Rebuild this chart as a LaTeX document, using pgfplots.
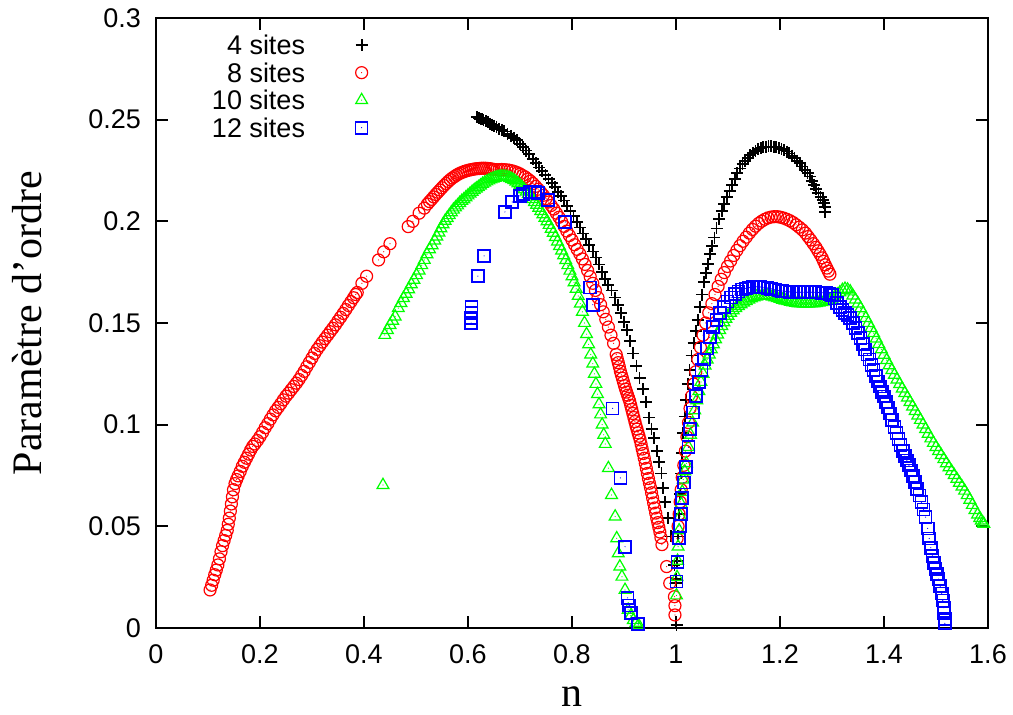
\documentclass[border=0pt]{standalone}
\usepackage{fontspec}
\setmainfont{Liberation Serif}
\newfontfamily\sansf{Liberation Sans}
\usepackage{pgfplots}
\pgfplotsset{compat=1.18}
\definecolor{gpred}{RGB}{255,0,0}
\definecolor{gpgreen}{RGB}{0,255,0}
\definecolor{gpblue}{RGB}{0,0,255}
\pgfdeclareplotmark{gpcirc}{%
  \pgfpathcircle{\pgfpointorigin}{\pgfplotmarksize}\pgfusepathqstroke
  \pgfpathcircle{\pgfpointorigin}{0.3pt}\pgfusepathqfill}
\pgfdeclareplotmark{gptri}{%
  \pgfpathmoveto{\pgfpointpolar{90}{\pgfplotmarksize}}%
  \pgfpathlineto{\pgfpointpolar{210}{\pgfplotmarksize}}%
  \pgfpathlineto{\pgfpointpolar{330}{\pgfplotmarksize}}%
  \pgfpathclose\pgfusepathqstroke
  \pgfpathcircle{\pgfpointorigin}{0.3pt}\pgfusepathqfill}
\pgfdeclareplotmark{gpsq}{%
  \pgfpathmoveto{\pgfqpoint{-\pgfplotmarksize}{-\pgfplotmarksize}}%
  \pgfpathlineto{\pgfqpoint{\pgfplotmarksize}{-\pgfplotmarksize}}%
  \pgfpathlineto{\pgfqpoint{\pgfplotmarksize}{\pgfplotmarksize}}%
  \pgfpathlineto{\pgfqpoint{-\pgfplotmarksize}{\pgfplotmarksize}}%
  \pgfpathclose\pgfusepathqstroke
  \pgfpathcircle{\pgfpointorigin}{0.3pt}\pgfusepathqfill}
\begin{document}
\begin{tikzpicture}
\begin{axis}[
  at={(0pt,0pt)}, anchor=south west,
  scale only axis, width=416pt, height=305pt,
  xmin=0, xmax=1.6, ymin=0, ymax=0.3,
  clip=false,
  xtick={0,0.2,0.4,0.6,0.8,1,1.2,1.4,1.6},
  xticklabels={0,0.2,0.4,0.6,0.8,1,1.2,1.4,1.6},
  ytick={0,0.05,0.1,0.15,0.2,0.25,0.3},
  yticklabels={0,0.05,0.1,0.15,0.2,0.25,0.3},
  minor tick num=0,
  tick align=inside,
  major tick length=6pt,
  tick style={black, line width=0.9pt},
  axis line style={black, line width=1.1pt},
  ticklabel style={font=\sansf\fontsize{13.5}{16}\selectfont},
  xticklabel style={yshift=-5pt},
  yticklabel style={xshift=-4pt},
  xlabel={n}, ylabel={Paramètre d’ordre},
  every axis x label/.style={at={(axis description cs:0.5,-0.113)}, anchor=center, font=\fontsize{21}{25}\selectfont},
  every axis y label/.style={at={(axis description cs:-0.1545,0.5)}, anchor=center, rotate=90, font=\fontsize{21}{25}\selectfont},
  legend style={draw=none, fill=none, inner sep=0pt, outer sep=0pt, row sep=0pt, column sep=0pt,
    font=\sansf\fontsize{13.5}{16}\selectfont,
    nodes={inner sep=0pt, text height=11.6pt, text depth=2.15pt},
    at={(axis description cs:0.0673,0.978)}, anchor=north west},
  legend cell align=right,
  legend plot pos=right,
  legend image code/.code={\path[draw=none,fill=none] (0pt,-0.5pt) rectangle (28.3pt,0.5pt); \draw[#1] plot coordinates {(28.3pt,0pt)};},
]
% 4 sites
\addplot[only marks, mark=+, mark size=3pt, draw=black, fill=black, mark options={draw=black, line width=0.9pt}] coordinates {
(0.618,0.2512)(0.621,0.2509)(0.624,0.2505)(0.627,0.2501)(0.630,0.2497)(0.634,0.2492)(0.638,0.2487)(0.642,0.2481)(0.646,0.2475)(0.650,0.2469)(0.655,0.2462)(0.660,0.2455)(0.665,0.2450)(0.670,0.2442)(0.676,0.2430)(0.682,0.2420)(0.688,0.2410)(0.694,0.2398)(0.700,0.2382)(0.706,0.2365)(0.712,0.2348)(0.718,0.2330)(0.725,0.2305)(0.731,0.2285)(0.737,0.2265)(0.743,0.2247)(0.749,0.2228)(0.755,0.2210)(0.761,0.2190)(0.767,0.2168)(0.773,0.2146)(0.779,0.2124)(0.785,0.2102)(0.791,0.2075)(0.797,0.2050)(0.803,0.2025)(0.809,0.1998)(0.815,0.1970)(0.821,0.1940)(0.827,0.1912)(0.833,0.1884)(0.840,0.1852)(0.846,0.1822)(0.852,0.1788)(0.858,0.1752)(0.864,0.1716)(0.870,0.1685)(0.876,0.1660)(0.882,0.1625)(0.888,0.1590)(0.894,0.1550)(0.900,0.1505)(0.906,0.1465)(0.912,0.1410)(0.918,0.1350)(0.924,0.1290)(0.930,0.1230)(0.936,0.1175)(0.942,0.1110)(0.948,0.1035)(0.953,0.0980)(0.958,0.0935)(0.964,0.0870)(0.968,0.0815)(0.972,0.0760)(0.975,0.0690)(0.979,0.0620)(0.985,0.0540)(0.991,0.0450)(0.997,0.0310)(1.001,0.0220)(1.001,0.0015)
(1.000,0.0240)(1.002,0.0330)(1.004,0.0450)(1.006,0.0560)(1.008,0.0660)(1.010,0.0760)(1.012,0.0860)(1.014,0.0960)(1.017,0.1040)(1.020,0.1120)(1.023,0.1200)(1.026,0.1270)(1.030,0.1340)(1.034,0.1400)(1.038,0.1460)(1.042,0.1515)(1.046,0.1580)(1.050,0.1640)(1.054,0.1700)(1.058,0.1745)(1.062,0.1790)(1.066,0.1840)(1.070,0.1880)(1.074,0.1920)(1.078,0.1965)(1.083,0.2010)(1.088,0.2050)(1.093,0.2085)(1.098,0.2120)(1.103,0.2150)(1.108,0.2180)(1.113,0.2210)(1.118,0.2238)(1.123,0.2260)(1.128,0.2280)(1.133,0.2298)(1.138,0.2312)(1.143,0.2325)(1.148,0.2337)(1.153,0.2347)(1.158,0.2354)(1.163,0.2360)(1.168,0.2364)(1.173,0.2367)(1.178,0.2368)(1.183,0.2368)(1.188,0.2367)(1.193,0.2364)(1.198,0.2360)(1.203,0.2356)(1.208,0.2350)(1.213,0.2343)(1.218,0.2334)(1.223,0.2323)(1.228,0.2310)(1.233,0.2298)(1.238,0.2285)(1.243,0.2270)(1.248,0.2253)(1.253,0.2237)(1.258,0.2220)(1.262,0.2200)(1.266,0.2180)(1.270,0.2160)(1.274,0.2140)(1.278,0.2120)(1.282,0.2105)(1.284,0.2090)(1.286,0.2070)(1.287,0.2045)
};
\addlegendentry{4 sites}
% 8 sites
\addplot[only marks, mark=gpcirc, mark size=3pt, draw=gpred, fill=gpred, mark options={draw=gpred, fill=gpred, line width=0.6pt}] coordinates {
(0.104,0.0187)(0.107,0.0210)(0.110,0.0235)(0.113,0.0262)(0.116,0.0285)(0.119,0.0310)(0.122,0.0340)(0.125,0.0375)(0.128,0.0405)(0.131,0.0430)(0.134,0.0455)(0.137,0.0480)(0.139,0.0510)(0.141,0.0540)(0.143,0.0575)(0.145,0.0610)(0.147,0.0645)(0.149,0.0680)(0.152,0.0710)(0.155,0.0730)(0.158,0.0748)(0.162,0.0770)(0.166,0.0795)(0.170,0.0815)(0.174,0.0835)(0.178,0.0855)(0.182,0.0875)(0.186,0.0893)(0.190,0.0905)(0.195,0.0922)(0.200,0.0941)(0.205,0.0962)(0.210,0.0985)(0.215,0.1005)(0.220,0.1027)(0.225,0.1048)(0.230,0.1068)(0.235,0.1085)(0.240,0.1103)(0.245,0.1122)(0.250,0.1140)(0.255,0.1155)(0.260,0.1172)(0.265,0.1188)(0.270,0.1204)(0.275,0.1222)(0.280,0.1242)(0.285,0.1262)(0.290,0.1285)(0.295,0.1306)(0.300,0.1328)(0.305,0.1350)(0.310,0.1370)(0.315,0.1388)(0.320,0.1406)(0.325,0.1423)(0.330,0.1440)(0.335,0.1457)(0.340,0.1474)(0.345,0.1491)(0.350,0.1510)(0.355,0.1528)(0.360,0.1547)(0.365,0.1566)(0.370,0.1586)(0.375,0.1605)(0.380,0.1624)(0.384,0.1640)(0.387,0.1650)
(0.396,0.1695)(0.405,0.1730)(0.428,0.1810)(0.438,0.1850)(0.450,0.1890)(0.485,0.1974)(0.494,0.2000)(0.506,0.2040)(0.516,0.2065)
(0.522,0.2085)(0.526,0.2097)(0.530,0.2108)(0.534,0.2120)(0.538,0.2132)(0.542,0.2143)(0.546,0.2154)(0.550,0.2165)(0.554,0.2176)(0.558,0.2186)(0.562,0.2196)(0.566,0.2205)(0.570,0.2213)(0.574,0.2220)(0.578,0.2227)(0.582,0.2233)(0.586,0.2238)(0.590,0.2242)(0.594,0.2246)(0.598,0.2249)(0.602,0.2252)(0.606,0.2254)(0.610,0.2256)(0.614,0.2258)(0.618,0.2259)(0.622,0.2260)(0.626,0.2261)(0.630,0.2261)(0.634,0.2261)(0.638,0.2260)(0.642,0.2259)(0.646,0.2257)(0.650,0.2255)(0.655,0.2254)(0.660,0.2254)(0.665,0.2255)(0.670,0.2254)(0.675,0.2253)(0.680,0.2251)(0.685,0.2248)(0.690,0.2244)(0.695,0.2239)(0.700,0.2233)(0.705,0.2225)(0.710,0.2218)(0.715,0.2208)(0.720,0.2198)(0.725,0.2186)(0.730,0.2172)(0.735,0.2158)(0.740,0.2143)(0.745,0.2128)(0.750,0.2112)(0.755,0.2095)(0.760,0.2078)(0.765,0.2060)(0.770,0.2040)(0.775,0.2020)(0.780,0.1998)(0.785,0.1975)(0.790,0.1952)(0.795,0.1930)(0.800,0.1908)(0.805,0.1885)(0.810,0.1862)(0.815,0.1840)(0.820,0.1815)(0.825,0.1788)(0.830,0.1758)(0.835,0.1728)(0.840,0.1695)(0.845,0.1660)(0.850,0.1625)(0.855,0.1590)(0.860,0.1555)(0.865,0.1518)(0.870,0.1480)(0.875,0.1440)(0.880,0.1400)
(0.885,0.1345)(0.887,0.1325)(0.889,0.1305)(0.891,0.1285)(0.893,0.1263)(0.895,0.1245)(0.897,0.1228)(0.899,0.1210)(0.901,0.1192)(0.903,0.1175)(0.905,0.1160)(0.907,0.1145)(0.909,0.1130)(0.911,0.1115)(0.913,0.1095)(0.915,0.1075)(0.917,0.1055)(0.919,0.1035)(0.921,0.1015)(0.923,0.0995)(0.925,0.0978)(0.927,0.0960)(0.929,0.0943)(0.931,0.0925)(0.933,0.0903)(0.935,0.0880)(0.937,0.0858)(0.939,0.0835)(0.941,0.0810)(0.943,0.0785)(0.945,0.0760)(0.947,0.0735)(0.949,0.0712)(0.951,0.0690)(0.953,0.0665)(0.955,0.0640)(0.957,0.0615)(0.959,0.0590)(0.961,0.0565)(0.963,0.0540)(0.965,0.0518)(0.967,0.0495)(0.969,0.0472)(0.971,0.0445)(0.973,0.0410)
(0.982,0.0302)(0.988,0.0220)(0.997,0.0154)(0.998,0.0110)(0.998,0.0064)
(1.002,0.0440)(1.004,0.0500)(1.006,0.0560)(1.008,0.0620)(1.010,0.0680)(1.012,0.0740)(1.015,0.0800)(1.018,0.0870)(1.021,0.0940)(1.024,0.1010)(1.027,0.1080)(1.030,0.1140)(1.034,0.1200)(1.038,0.1260)(1.042,0.1320)(1.047,0.1380)(1.052,0.1440)(1.057,0.1500)(1.063,0.1550)(1.069,0.1595)(1.075,0.1640)(1.081,0.1680)(1.087,0.1715)(1.093,0.1748)(1.099,0.1778)(1.105,0.1805)(1.111,0.1832)(1.117,0.1857)(1.123,0.1880)(1.129,0.1902)(1.135,0.1922)(1.141,0.1942)(1.147,0.1960)(1.153,0.1976)(1.159,0.1990)(1.165,0.2001)(1.171,0.2010)(1.177,0.2017)(1.183,0.2021)(1.189,0.2023)(1.195,0.2023)(1.201,0.2020)(1.207,0.2016)(1.213,0.2010)(1.219,0.2003)(1.225,0.1994)(1.231,0.1983)(1.237,0.1971)(1.243,0.1958)(1.249,0.1942)(1.254,0.1925)(1.259,0.1908)(1.264,0.1890)(1.269,0.1872)(1.273,0.1855)(1.277,0.1838)(1.281,0.1820)(1.284,0.1803)(1.287,0.1786)(1.290,0.1770)(1.293,0.1755)(1.296,0.1740)
};
\addlegendentry{8 sites}
% 10 sites
\addplot[only marks, mark=gptri, mark size=3.4pt, draw=gpgreen, fill=gpgreen, mark options={draw=gpgreen, fill=gpgreen, line width=0.6pt}] coordinates {
(0.4365,0.0703)
(0.440,0.1441)(0.445,0.1465)(0.450,0.1490)(0.455,0.1511)(0.460,0.1531)(0.466,0.1573)(0.471,0.1598)(0.476,0.1622)(0.481,0.1643)(0.486,0.1665)(0.491,0.1690)(0.496,0.1712)(0.501,0.1735)(0.506,0.1758)(0.511,0.1784)(0.516,0.1810)(0.521,0.1838)(0.526,0.1862)(0.531,0.1882)(0.536,0.1905)(0.540,0.1925)(0.544,0.1945)(0.548,0.1965)(0.552,0.1985)(0.556,0.2002)(0.560,0.2016)(0.564,0.2030)(0.568,0.2044)(0.572,0.2057)(0.576,0.2068)(0.580,0.2078)(0.584,0.2090)(0.588,0.2100)(0.592,0.2108)(0.596,0.2118)(0.600,0.2127)(0.604,0.2136)(0.608,0.2145)(0.612,0.2153)(0.616,0.2161)(0.620,0.2168)(0.624,0.2176)(0.628,0.2184)(0.632,0.2190)(0.636,0.2196)(0.640,0.2201)(0.644,0.2206)(0.648,0.2210)(0.652,0.2214)(0.656,0.2217)(0.660,0.2219)(0.664,0.2220)(0.668,0.2220)(0.672,0.2219)(0.676,0.2217)(0.680,0.2213)(0.684,0.2208)(0.688,0.2202)(0.692,0.2195)(0.696,0.2187)(0.700,0.2178)(0.704,0.2168)(0.708,0.2157)(0.712,0.2146)(0.716,0.2134)(0.720,0.2122)(0.724,0.2109)(0.728,0.2095)(0.732,0.2081)(0.736,0.2066)(0.740,0.2050)(0.744,0.2034)(0.748,0.2017)(0.752,0.2000)(0.756,0.1982)(0.760,0.1963)(0.764,0.1943)(0.768,0.1922)(0.772,0.1900)(0.776,0.1878)(0.780,0.1856)(0.784,0.1833)(0.788,0.1809)(0.792,0.1784)(0.796,0.1757)(0.800,0.1729)(0.804,0.1700)(0.808,0.1668)(0.812,0.1633)(0.816,0.1595)(0.820,0.1555)(0.824,0.1500)(0.828,0.1445)(0.832,0.1395)(0.836,0.1345)(0.840,0.1300)(0.843,0.1250)(0.846,0.1200)(0.849,0.1150)(0.852,0.1100)(0.855,0.1050)(0.858,0.1000)(0.861,0.0950)(0.864,0.0905)(0.870,0.0786)(0.876,0.0654)(0.883,0.0548)(0.886,0.0441)(0.889,0.0367)(0.892,0.0302)(0.896,0.0252)(0.902,0.0187)(0.908,0.0089)(0.913,0.0060)(0.918,0.0039)(0.923,0.0025)(0.928,0.0015)
(1.001,0.0160)(1.002,0.0250)(1.003,0.0330)(1.004,0.0400)(1.006,0.0480)(1.008,0.0550)(1.010,0.0610)(1.012,0.0670)(1.014,0.0730)(1.017,0.0770)(1.020,0.0810)(1.024,0.0890)(1.028,0.0950)(1.032,0.1010)(1.036,0.1070)(1.040,0.1120)(1.044,0.1165)(1.048,0.1210)(1.052,0.1250)(1.056,0.1290)(1.060,0.1320)(1.064,0.1345)(1.068,0.1370)(1.072,0.1395)(1.076,0.1420)(1.080,0.1443)(1.084,0.1465)(1.088,0.1485)(1.092,0.1503)(1.096,0.1520)(1.100,0.1535)(1.105,0.1550)(1.110,0.1562)(1.115,0.1573)(1.120,0.1583)(1.125,0.1592)(1.130,0.1600)(1.135,0.1608)(1.140,0.1615)(1.145,0.1621)(1.150,0.1626)(1.155,0.1630)(1.160,0.1633)(1.165,0.1635)(1.170,0.1636)(1.175,0.1636)(1.180,0.1634)(1.185,0.1630)(1.190,0.1626)(1.195,0.1622)(1.200,0.1618)(1.205,0.1614)(1.210,0.1610)(1.215,0.1607)(1.220,0.1604)(1.225,0.1601)(1.230,0.1599)(1.235,0.1597)(1.240,0.1596)(1.245,0.1595)(1.250,0.1595)(1.255,0.1595)(1.260,0.1596)(1.265,0.1597)(1.270,0.1598)(1.275,0.1600)(1.280,0.1602)(1.285,0.1605)(1.290,0.1609)(1.295,0.1614)(1.300,0.1620)(1.305,0.1628)(1.310,0.1640)(1.315,0.1650)(1.320,0.1662)(1.325,0.1668)(1.330,0.1664)
(1.335,0.1655)(1.340,0.1635)(1.345,0.1615)(1.350,0.1595)(1.355,0.1572)(1.360,0.1548)(1.365,0.1524)(1.370,0.1500)(1.375,0.1475)(1.380,0.1450)(1.385,0.1423)(1.390,0.1396)(1.395,0.1370)(1.400,0.1343)(1.405,0.1317)(1.410,0.1292)(1.415,0.1268)(1.420,0.1245)(1.425,0.1222)(1.430,0.1199)(1.435,0.1177)(1.440,0.1155)(1.445,0.1133)(1.450,0.1111)(1.455,0.1089)(1.460,0.1067)(1.465,0.1045)(1.470,0.1023)(1.475,0.1000)(1.480,0.0978)(1.485,0.0955)(1.490,0.0932)(1.495,0.0910)(1.500,0.0890)(1.505,0.0870)(1.510,0.0850)(1.515,0.0830)(1.520,0.0810)(1.525,0.0790)(1.530,0.0771)(1.535,0.0752)(1.540,0.0733)(1.545,0.0714)(1.550,0.0695)(1.555,0.0675)(1.560,0.0653)(1.565,0.0630)(1.570,0.0605)(1.575,0.0580)(1.580,0.0558)(1.584,0.0540)(1.587,0.0528)(1.590,0.0518)(1.592,0.0512)
};
\addlegendentry{10 sites}
% 12 sites
\addplot[only marks, mark=gpsq, mark size=3pt, draw=gpblue, fill=gpblue, mark options={draw=gpblue, fill=gpblue, line width=0.85pt}] coordinates {
(0.606,0.1500)(0.606,0.1525)(0.607,0.1550)(0.607,0.1580)(0.619,0.1730)(0.631,0.1830)(0.671,0.2046)(0.685,0.2095)(0.700,0.2125)(0.706,0.2135)(0.718,0.2145)(0.729,0.2145)(0.735,0.2140)(0.754,0.2105)(0.787,0.1997)(0.835,0.1675)(0.840,0.1590)(0.878,0.1080)(0.893,0.0738)(0.902,0.0400)(0.907,0.0148)(0.910,0.0110)(0.913,0.0075)(0.927,0.0020)
(1.001,0.0228)(1.003,0.0326)(1.006,0.0441)(1.008,0.0502)(1.009,0.0561)(1.012,0.0640)(1.015,0.0715)(1.019,0.0793)(1.024,0.0889)(1.027,0.0980)(1.033,0.1060)(1.039,0.1140)(1.044,0.1210)(1.049,0.1270)(1.054,0.1320)(1.059,0.1375)(1.065,0.1430)(1.071,0.1480)(1.078,0.1515)(1.085,0.1550)(1.092,0.1580)(1.099,0.1605)(1.106,0.1625)(1.113,0.1642)(1.120,0.1655)(1.127,0.1664)(1.134,0.1670)(1.141,0.1674)(1.148,0.1677)(1.155,0.1678)(1.162,0.1677)(1.169,0.1675)(1.176,0.1672)(1.183,0.1668)(1.190,0.1664)(1.197,0.1660)(1.204,0.1657)(1.211,0.1655)(1.218,0.1653)(1.225,0.1652)(1.232,0.1651)(1.239,0.1651)(1.246,0.1651)(1.253,0.1651)(1.260,0.1651)(1.267,0.1651)(1.274,0.1650)(1.281,0.1649)(1.288,0.1647)(1.295,0.1643)(1.300,0.1638)
(1.305,0.1620)(1.310,0.1600)(1.315,0.1580)(1.320,0.1565)(1.325,0.1550)(1.330,0.1540)(1.335,0.1525)(1.340,0.1500)(1.345,0.1475)(1.350,0.1450)(1.355,0.1425)(1.360,0.1395)(1.364,0.1370)(1.368,0.1345)(1.372,0.1320)(1.376,0.1295)(1.380,0.1268)(1.384,0.1240)(1.388,0.1212)(1.392,0.1187)(1.396,0.1162)(1.400,0.1138)(1.404,0.1112)(1.408,0.1085)(1.412,0.1055)(1.416,0.1022)(1.420,0.0990)(1.424,0.0960)(1.428,0.0930)(1.432,0.0900)(1.436,0.0872)(1.440,0.0845)(1.444,0.0823)(1.448,0.0800)(1.452,0.0775)(1.456,0.0748)(1.460,0.0718)(1.464,0.0685)(1.468,0.0652)(1.472,0.0618)(1.476,0.0582)(1.480,0.0545)(1.484,0.0490)(1.487,0.0440)(1.490,0.0395)(1.493,0.0355)(1.496,0.0320)(1.499,0.0290)(1.502,0.0265)(1.505,0.0240)(1.508,0.0205)(1.511,0.0170)(1.513,0.0135)(1.515,0.0100)(1.516,0.0072)(1.517,0.0045)(1.517,0.0023)
};
\addlegendentry{12 sites}
\end{axis}
\pgfresetboundingbox
\path (-78pt,-43.5pt) rectangle (428.5pt,314pt);
\end{tikzpicture}
\end{document}
